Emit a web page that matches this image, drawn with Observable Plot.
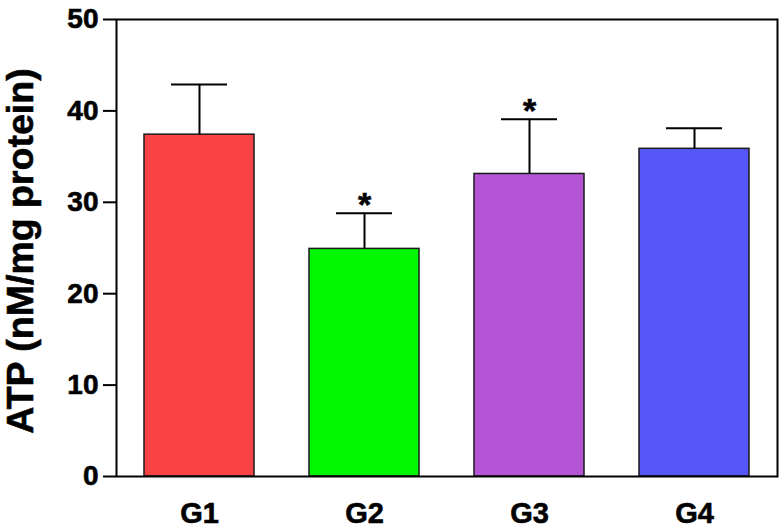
<!DOCTYPE html>
<html>
<head>
<meta charset="utf-8">
<script src="https://cdn.jsdelivr.net/npm/d3@7"></script>
<script src="https://cdn.jsdelivr.net/npm/@observablehq/plot@0.6"></script>
<style>
  html, body { margin: 0; padding: 0; background: #fff; }
  #chart svg { display: block; font-family: "Liberation Sans", Arial, sans-serif; }
</style>
</head>
<body>
<div id="chart"></div>
<script>
const groups = ["G1", "G2", "G3", "G4"];
const means = [37.4, 24.9, 33.1, 35.85];
const sds = [5.5, 3.9, 6.0, 2.25];
const significant = [false, true, true, false];
const colors = ["#f84244", "#00f700", "#b455d5", "#5757f7"];
const yTicks = [0, 10, 20, 30, 40, 50];
const yTitle = "ATP (nM/mg protein)";

const data = groups.map((g, i) => ({ g, mean: means[i], hi: means[i] + sds[i], sig: significant[i], color: colors[i] }));

const chart = Plot.plot({
  width: 784,
  height: 531,
  marginLeft: 116,
  marginRight: 7,
  marginTop: 19,
  marginBottom: 55,
  style: { fontFamily: '"Liberation Sans", Arial, sans-serif', background: "#fff", color: "#000" },
  x: { domain: groups, paddingInner: 0.334, paddingOuter: 0.163 },
  y: { domain: [0, 50] },
  marks: [
    Plot.barY(data, { x: "g", y: "mean", fill: "color", stroke: "#1a1a1a", strokeWidth: 1.5 }),
    Plot.ruleX(data, { x: "g", y1: "mean", y2: "hi", stroke: "#000", strokeWidth: 2 }),
    Plot.tickY(data, { x: "g", y: "hi", insetLeft: 27, insetRight: 27, stroke: "#000", strokeWidth: 2 }),
    Plot.text(data.filter(d => d.sig), { x: "g", y: "hi", text: () => "*", fontSize: 34, fontWeight: "bold", lineAnchor: "middle", dy: -8, fill: "#000" }),
    Plot.frame({ stroke: "#000", strokeWidth: 2 }),
    Plot.axisY({ ticks: yTicks, tickSize: 13, tickPadding: 5, fontSize: 28, fontWeight: "bold", strokeWidth: 2, label: null, tickFormat: d => String(d) }),
    Plot.axisX({ tickSize: 0, tickPadding: 26, fontSize: 29, fontWeight: "bold", label: null }),
    Plot.text([yTitle], { text: d => d, frameAnchor: "left", textAnchor: "middle", dx: -96, dy: 3, rotate: -90, fontSize: 37.5, fontWeight: "bold", lineAnchor: "middle", fill: "#000" })
  ]
});
d3.select(chart).selectAll("text").attr("stroke", "#000").attr("stroke-width", 0.6).attr("paint-order", "stroke");
document.getElementById("chart").appendChild(chart);
</script>
</body>
</html>
